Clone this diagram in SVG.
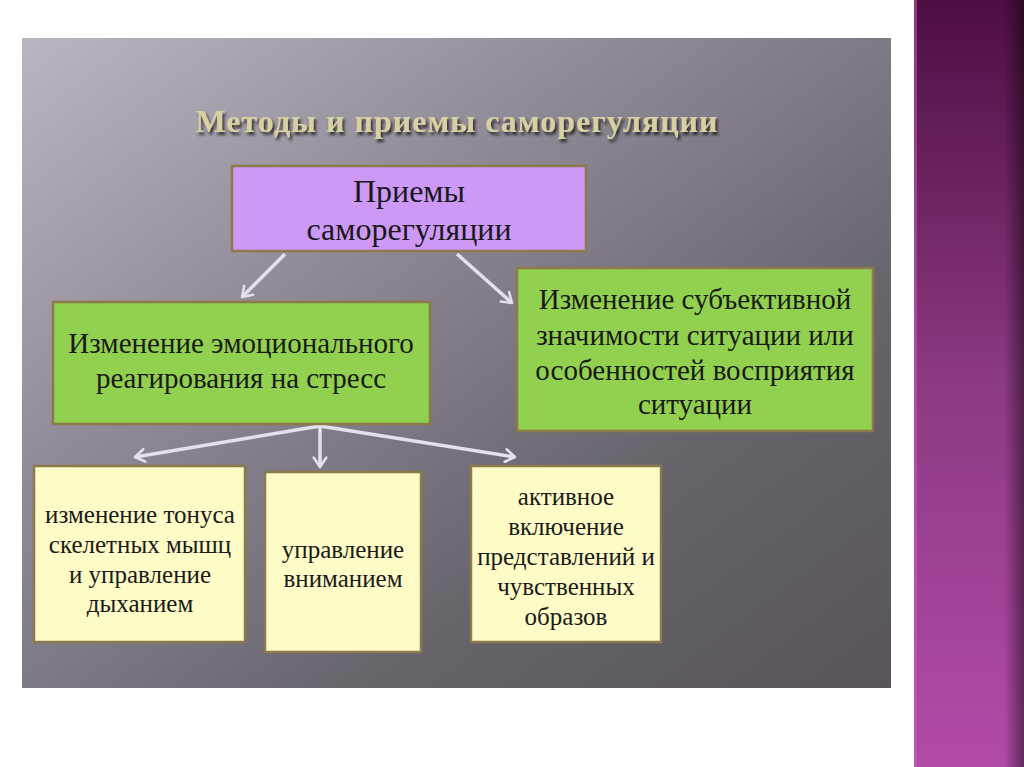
<svg xmlns="http://www.w3.org/2000/svg" width="1024" height="767" viewBox="0 0 1024 767">
<defs>
<linearGradient id="panel" x1="0" y1="0" x2="1" y2="1">
<stop offset="0" stop-color="#bab5be"/>
<stop offset="0.35" stop-color="#8f8a96"/>
<stop offset="0.7" stop-color="#67636b"/>
<stop offset="1" stop-color="#58545a"/>
</linearGradient>
<linearGradient id="stripe" x1="0" y1="0" x2="0" y2="1">
<stop offset="0" stop-color="#4e0e42"/>
<stop offset="0.5" stop-color="#8c3a82"/>
<stop offset="1" stop-color="#b24aa8"/>
</linearGradient>
<linearGradient id="edge" x1="0" y1="0" x2="1" y2="0">
<stop offset="0" stop-color="#000" stop-opacity="0"/>
<stop offset="1" stop-color="#000" stop-opacity="0.45"/>
</linearGradient>
<filter id="sh" x="-5%" y="-20%" width="110%" height="150%">
<feDropShadow dx="2" dy="3" stdDeviation="1.5" flood-color="#000" flood-opacity="0.7"/>
</filter>
<marker id="ah" viewBox="0 0 10 10" refX="7" refY="5" markerWidth="4.5" markerHeight="4.5" orient="auto" markerUnits="strokeWidth">
<path d="M1,1 L7,5 L1,9" fill="none" stroke="#e4e1ea" stroke-width="1.6" stroke-linecap="round" stroke-linejoin="round"/>
</marker>
</defs>
<style>
.box{stroke:#8c7a4a;stroke-width:2.5}
.purple{fill:#cd98f6}
.green{fill:#92d050}
.yellow{fill:#fdfbc6}
.t{font-family:"Liberation Serif",serif;fill:#1a1a1a;text-anchor:middle}
.big{font-size:32px}
.mid{font-size:29px}
.sm{font-size:25px}
.conn{stroke:#e4e1ea;stroke-width:3.5;fill:none;marker-end:url(#ah)}
</style>
<rect width="1024" height="767" fill="#ffffff"/>
<rect x="22" y="38" width="869" height="650" fill="url(#panel)"/>
<rect x="914" y="0" width="110" height="767" fill="url(#stripe)"/>
<rect x="1004" y="0" width="20" height="767" fill="url(#edge)"/>
<rect x="914" y="0" width="3" height="767" fill="#d060c0" opacity="0.5"/>
<text x="457" y="132" font-family="Liberation Serif,serif" font-size="32" font-weight="bold" fill="#d9d0a2" text-anchor="middle" filter="url(#sh)" letter-spacing="1">Методы и приемы саморегуляции</text>
<g id="connectors">
<line class="conn" x1="285" y1="254" x2="242" y2="297"/>
<line class="conn" x1="457" y1="254" x2="512" y2="303"/>
<line class="conn" x1="320" y1="426" x2="135" y2="457"/>
<line class="conn" x1="320" y1="426" x2="320" y2="467"/>
<line class="conn" x1="320" y1="426" x2="515" y2="457"/>
</g>
<g id="node-root">
<rect class="box purple" x="232" y="166" width="354" height="85"/>
<text class="t big" x="409" y="202">Приемы</text>
<text class="t big" x="409" y="240">саморегуляции</text>
</g>
<g id="node-emotional">
<rect class="box green" x="53" y="302" width="377" height="122"/>
<text class="t mid" x="241" y="353">Изменение эмоционального</text>
<text class="t mid" x="241" y="388">реагирования на стресс</text>
</g>
<g id="node-subjective">
<rect class="box green" x="517" y="268" width="356" height="163"/>
<text class="t mid" x="695" y="309">Изменение субъективной</text>
<text class="t mid" x="695" y="345">значимости ситуации или</text>
<text class="t mid" x="695" y="380">особенностей восприятия</text>
<text class="t mid" x="695" y="414">ситуации</text>
</g>
<g id="node-muscle">
<rect class="box yellow" x="34" y="466" width="211" height="176"/>
<text class="t sm" x="140" y="523">изменение тонуса</text>
<text class="t sm" x="140" y="553">скелетных мышц</text>
<text class="t sm" x="140" y="583">и управление</text>
<text class="t sm" x="140" y="612">дыханием</text>
</g>
<g id="node-attention">
<rect class="box yellow" x="265" y="472" width="156" height="180"/>
<text class="t sm" x="343" y="558">управление</text>
<text class="t sm" x="343" y="587">вниманием</text>
</g>
<g id="node-images">
<rect class="box yellow" x="471" y="466" width="190" height="176"/>
<text class="t sm" x="566" y="505">активное</text>
<text class="t sm" x="566" y="535">включение</text>
<text class="t sm" x="566" y="565">представлений и</text>
<text class="t sm" x="566" y="595">чувственных</text>
<text class="t sm" x="566" y="625">образов</text>
</g>
</svg>
